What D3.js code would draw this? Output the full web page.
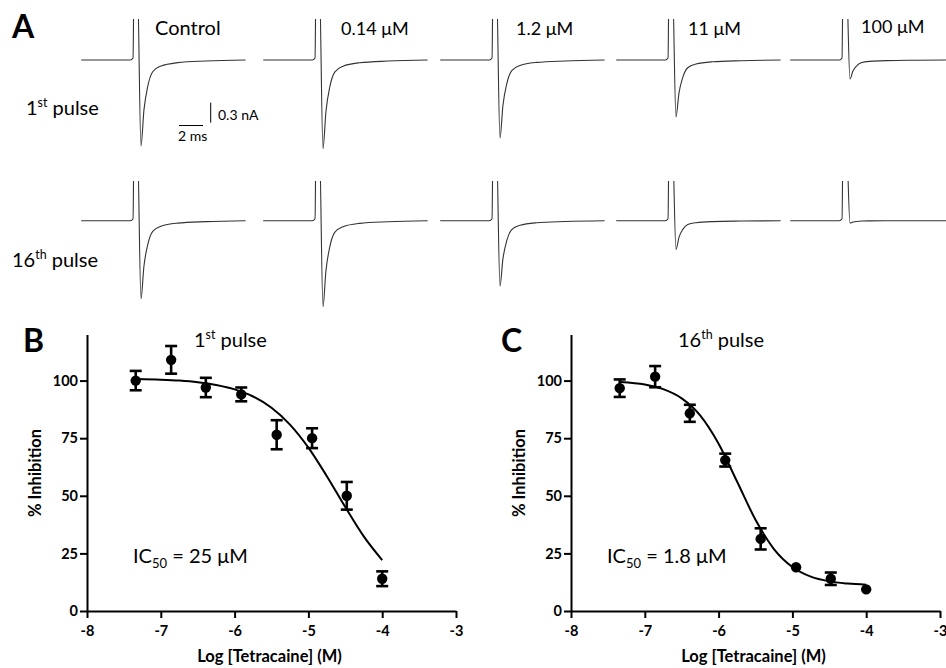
<!DOCTYPE html>
<html>
<head>
<meta charset="utf-8">
<script src="https://cdn.jsdelivr.net/npm/d3@7"></script>
<style>
  html, body { margin: 0; padding: 0; background: #fff; }
  svg { display: block; font-family: Lato, "Open Sans", sans-serif; }
</style>
</head>
<body>
<script>
// ---------------- DATA ----------------
// Panel A: current traces
const traceLabels = ["Control", "0.14 μM", "1.2 μM", "11 μM", "100 μM"];
const traceTimeMs = [-4.4, -0.3, -0.08, 0, 0.28, 0.58, 0.83, 1.14, 1.56, 2.25, 3.64, 6.0, 9.3];
const artifactNa  = [0, 0, 0.03, 1.2, 1.2, 0, 0, 0, 0, 0, 0, 0, 0];
const currentShape = [0, 0, 0, 0, 0, -1, -0.58, -0.31, -0.136, -0.07, -0.031, -0.012, 0];
const peak1stNa  = [1.29, 1.33, 1.17, 0.855, 0.285];
const peak16thNa = [1.17, 1.29, 0.98, 0.43, 0.035];

// Panels B and C: concentration-response
const logConc = [-7.34, -6.86, -6.39, -5.91, -5.43, -4.95, -4.48, -4.0];
const pulse1Mean = [100, 109, 97, 94, 76.5, 75, 50, 14];
const pulse1Err  = [4.2, 6, 4.2, 3, 6.3, 4.3, 6, 3.2];
const pulse16Mean = [96.7, 101.7, 85.8, 65.5, 31.3, 19, 14, 9.4];
const pulse16Err  = [3.8, 4.6, 3.7, 2.8, 4.6, 0, 2.7, 0];

const fitLogConc = [-7.33, -7.0, -6.75, -6.5, -6.25, -6.0, -5.75, -5.5, -5.25, -5.0, -4.75, -4.5, -4.25, -4.0];
const fit1  = [100.7, 100.4, 100.0, 99.3, 98.1, 96.2, 93.1, 88.2, 80.9, 70.9, 58.5, 45.1, 32.4, 22.1];
const fit16 = [99.4, 98.3, 96.3, 92.3, 84.9, 72.6, 56.2, 39.6, 26.9, 19.1, 14.9, 12.85, 11.9, 11.4];

const xTicks = [-8, -7, -6, -5, -4, -3];
const yTicks = [0, 25, 50, 75, 100];

// ---------------- DRAW ----------------
const W = 946, H = 668;
const svg = d3.select("body").append("svg").attr("width", W).attr("height", H);
const TXT = "#000";

// ---- Panel A ----
const colSpikeX = [134, 316, 493, 669, 843];
const rowBase = [60, 220.7];
const rowTop = [19, 181];
const tx = d3.scaleLinear().domain([0, 1]).range([0, 12]);          // 12 px per ms
const rowY = rowBase.map(b => d3.scaleLinear().domain([0, -1]).range([b, b + 66.7])); // px per nA
const peaks = [peak1stNa, peak16thNa];
const defs = svg.append("defs");
rowTop.forEach((t, r) => defs.append("clipPath").attr("id", "rowclip" + r)
  .append("rect").attr("x", 0).attr("y", t).attr("width", W).attr("height", 140));

rowY.forEach((ys, r) => {
  const rg = svg.append("g").attr("clip-path", `url(#rowclip${r})`);
  peaks[r].forEach((pk, c) => {
    const pts = traceTimeMs.map((t, i) => ({ t, v: artifactNa[i] + pk * currentShape[i] }));
    const line = d3.line().x(d => tx(d.t)).y(d => ys(d.v)).curve(d3.curveMonotoneX);
    rg.append("g").attr("transform", `translate(${colSpikeX[c]},0)`)
      .append("path").attr("d", line(pts))
      .attr("fill", "none").attr("stroke", "#333").attr("stroke-width", 1.1);
  });
});

// concentration labels
const labelX = [155, 341, 516, 688, 861];
const labelY = [35, 35, 35, 35, 33];
traceLabels.forEach((s, i) => {
  svg.append("text").attr("x", labelX[i]).attr("y", labelY[i])
    .attr("font-size", i === 0 ? 20 : 18).attr("fill", TXT).text(s);
});

svg.append("text").attr("x", 12).attr("y", 38).attr("font-size", 32).attr("font-weight", "bold").text("A");

function pulseLabel(x, y, n, sup, fs) {
  const t = svg.append("text").attr("x", x).attr("y", y).attr("font-size", fs).attr("fill", TXT);
  t.append("tspan").text(n);
  t.append("tspan").text(sup).attr("font-size", fs * 0.62).attr("dy", -fs * 0.38);
  t.append("tspan").text(" pulse").attr("dy", fs * 0.38);
}
pulseLabel(26, 115, "1", "st", 20);
pulseLabel(12, 267, "16", "th", 20);

// scale bar
const sbX0 = 179, sbY = 125.5;
svg.append("line").attr("x1", sbX0).attr("x2", sbX0 + tx(2)).attr("y1", sbY).attr("y2", sbY)
  .attr("stroke", "#000").attr("stroke-width", 1);
const vsc = d3.scaleLinear().domain([0, 1]).range([0, 66.7]);
svg.append("line").attr("x1", 210.7).attr("x2", 210.7).attr("y1", 102.7).attr("y2", 102.7 + vsc(0.3))
  .attr("stroke", "#000").attr("stroke-width", 1);
svg.append("text").attr("x", 178).attr("y", 141).attr("font-size", 14).text("2 ms");
svg.append("text").attr("x", 218).attr("y", 120).attr("font-size", 14).text("0.3 nA");

// ---- Panels B, C ----
function panel(opt) {
  const x = d3.scaleLinear().domain([-8, -3]).range([opt.x0, opt.x0 + 369]);
  const y = d3.scaleLinear().domain([0, 120]).range([611, 334.5]);
  const g = svg.append("g");

  const ax = g.append("g").attr("transform", "translate(0,611)")
    .call(d3.axisBottom(x).tickValues(xTicks).tickSize(7).tickSizeOuter(0).tickFormat(d3.format("d")));
  const ay = g.append("g").attr("transform", `translate(${opt.x0},0)`)
    .call(d3.axisLeft(y).tickValues(yTicks).tickSize(7).tickSizeOuter(0));
  [ax, ay].forEach(a => {
    a.select(".domain").attr("stroke", "#000").attr("stroke-width", 2);
    a.selectAll(".tick line").attr("stroke", "#000").attr("stroke-width", 2);
    a.selectAll(".tick text").attr("font-family", "Lato, sans-serif").attr("font-weight", "bold")
      .attr("font-size", 14.5).attr("fill", "#000");
  });
  ax.selectAll(".tick text").attr("dy", "1.05em").text(d => d < 0 ? "-" + Math.abs(d) : d);
  ay.selectAll(".tick text").attr("x", -9);

  // fit curve
  const fitLine = d3.line().x(d => x(d[0])).y(d => y(d[1])).curve(d3.curveMonotoneX);
  g.append("path").attr("d", fitLine(fitLogConc.map((v, i) => [v, opt.fit[i]])))
    .attr("fill", "none").attr("stroke", "#000").attr("stroke-width", 2);

  // error bars
  logConc.forEach((lc, i) => {
    const e = opt.err[i];
    if (!e) return;
    const cx = x(lc), m = opt.mean[i];
    g.append("line").attr("x1", cx).attr("x2", cx).attr("y1", y(m - e)).attr("y2", y(m + e))
      .attr("stroke", "#000").attr("stroke-width", 2.6);
    [m - e, m + e].forEach(v => g.append("line").attr("x1", cx - 6).attr("x2", cx + 6)
      .attr("y1", y(v)).attr("y2", y(v)).attr("stroke", "#000").attr("stroke-width", 2.6));
  });
  // points
  g.selectAll("circle.pt").data(logConc).enter().append("circle")
    .attr("cx", d => x(d)).attr("cy", (d, i) => y(opt.mean[i])).attr("r", 5.2).attr("fill", "#000");

  // labels
  svg.append("text").attr("x", opt.letterX).attr("y", 352).attr("font-size", 32)
    .attr("font-weight", "bold").text(opt.letter);
  pulseLabel(opt.titleX, 346.7, opt.titleN, opt.titleSup, 20);
  svg.append("text").attr("transform", `translate(${opt.ylabX},473) rotate(-90)`)
    .attr("text-anchor", "middle").attr("dy", "0.35em").attr("font-size", 16.5)
    .attr("font-weight", "bold").text("% Inhibition");
  svg.append("text").attr("x", opt.xlabX).attr("y", 662).attr("text-anchor", "middle")
    .attr("font-size", 16.5).attr("font-weight", "bold").text("Log [Tetracaine] (M)");
  const ic = svg.append("text").attr("x", opt.icX).attr("y", 563).attr("font-size", 20);
  ic.append("tspan").text("IC");
  ic.append("tspan").text("50").attr("font-size", 13).attr("dy", 4.5);
  ic.append("tspan").text(" = " + opt.icVal + " μM").attr("dy", -4.5);
}

panel({ x0: 87, mean: pulse1Mean, err: pulse1Err, fit: fit1, letter: "B", letterX: 23,
  titleX: 194, titleN: "1", titleSup: "st", ylabX: 35, xlabX: 269.5, icX: 133, icVal: "25" });
panel({ x0: 571, mean: pulse16Mean, err: pulse16Err, fit: fit16, letter: "C", letterX: 501,
  titleX: 678, titleN: "16", titleSup: "th", ylabX: 519, xlabX: 753.5, icX: 607, icVal: "1.8" });
</script>
</body>
</html>
